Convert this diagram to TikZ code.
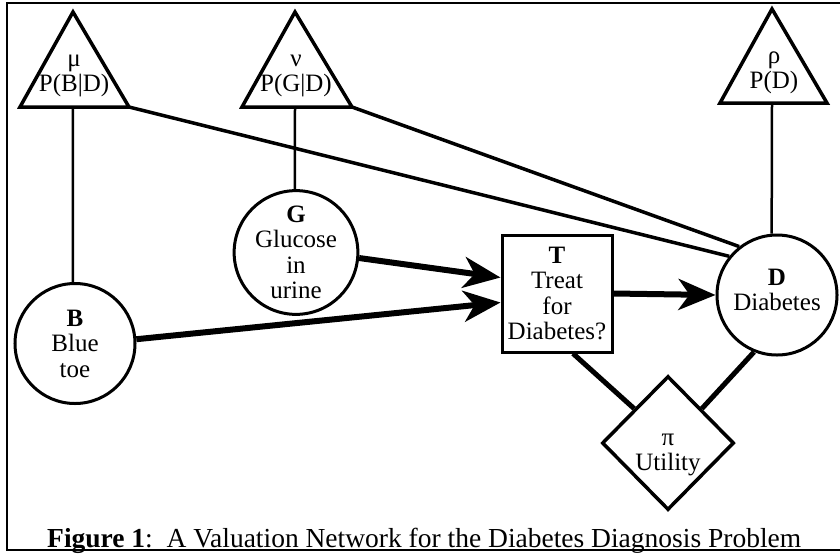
\documentclass[tikz,border=0pt]{standalone}
\usepackage{fontspec}
\setmainfont{Liberation Serif}
\usetikzlibrary{arrows.meta,shapes.geometric}
\begin{document}
\begin{tikzpicture}[x=1pt,y=-1pt,
  nodefont/.style={font=\fontsize{25}{25.5}\selectfont},
  chance/.style={draw,circle,line width=3pt,minimum size=120pt,inner sep=0pt,align=center,nodefont},
  decision/.style={draw,rectangle,line width=3pt,minimum width=110pt,minimum height=117pt,inner sep=0pt,align=center,nodefont},
  utility/.style={draw,diamond,aspect=1,line width=3.5pt,minimum width=132pt,minimum height=134pt,inner sep=0pt},
  labeltext/.style={align=center,inner sep=0pt,nodefont},
  trishape/.style={line width=3.5pt,line join=miter},
  thin link/.style={line width=2.5pt},
  diag link/.style={line width=3.5pt},
  util link/.style={line width=5pt},
  bigarrow/.style={line width=6pt,-{Stealth[length=37pt,width=31pt,inset=11pt]}},
]
\useasboundingbox (0,0) rectangle (840,555);
% frame (no right side)
\draw[line width=2.5pt] (840,3) -- (7,3) -- (7,550) -- (840,550);

% triangles
\coordinate (muA) at (73,12);  \coordinate (muL) at (20,107);  \coordinate (muR) at (129,107);
\coordinate (nuA) at (295,12); \coordinate (nuL) at (242,107); \coordinate (nuR) at (352,107);
\coordinate (rhoA) at (772,9); \coordinate (rhoL) at (720,103); \coordinate (rhoR) at (827,103);
\coordinate (muB) at (73,107); \coordinate (nuB) at (295,107); \coordinate (rhoB) at (772,103);
\draw[trishape] (muA) -- (muL) -- (muR) -- cycle;
\draw[trishape] (nuA) -- (nuL) -- (nuR) -- cycle;
\draw[trishape] (rhoA) -- (rhoL) -- (rhoR) -- cycle;
\node[labeltext] (mutext) at (74,76) {μ\\P(B|D)};
\node[labeltext] (nutext) at (296,76) {ν\\P(G|D)};
\node[labeltext] (rhotext) at (774,73) {ρ\\P(D)};

% nodes
\node[chance] (B) at (75,343.5) {\textbf{B}\\Blue\\toe};
\node[chance] (G) at (296,252.5) {\textbf{G}\\Glucose\\in\\urine};
\node[decision] (T) at (557,293.5) {\textbf{T}\\Treat\\for\\Diabetes?};
\node[chance] (D) at (777,295) {};
\node[labeltext] (Dtext) at (777,290) {\textbf{D}\\Diabetes};
\node[utility] (U) at (668,443) {};
\node[labeltext] (Utext) at (668,455) {π\\Utility};

% connectors
\draw[thin link] (muB) -- (B.92);
\draw[thin link] (nuB) -- (G.91);
\draw[thin link] (rhoB) -- (D.95);
\draw[diag link] (muR) -- (D.141);
\draw[diag link] (nuR) -- (D.128);
\draw[bigarrow] (G.-5) -- ([yshift=16pt]T.west);
\draw[bigarrow] (B.4) -- ([yshift=-9pt]T.west);
\draw[bigarrow] (T.east) -- (D.west);
\draw[util link] ([xshift=16pt]T.south) -- (U.north west);
\draw[util link] (D.-112) -- (U.north east);

% caption
\node[anchor=base west,inner sep=0pt,font=\fontsize{27.5}{29}\selectfont] (cap) at (47,547)
  {\textbf{Figure 1}:\ \ A Valuation Network for the Diabetes Diagnosis Problem};
\end{tikzpicture}
\end{document}
